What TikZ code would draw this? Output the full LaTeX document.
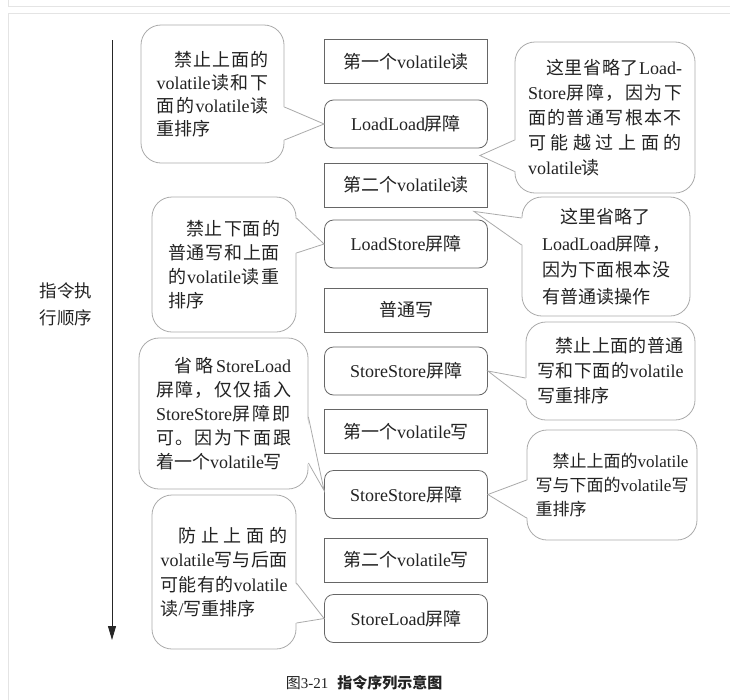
\documentclass[tikz,border=0pt]{standalone}
\usepackage{fontspec}
\setmainfont{Liberation Serif}
\newfontfamily\cjk{Noto Sans CJK SC}
\usetikzlibrary{calc,arrows.meta}
% automatic switch to the CJK font
\XeTeXinterchartokenstate=1
\newXeTeXintercharclass\CJKcls
\newcount\cjkidx
\cjkidx="3000
\loop\ifnum\cjkidx<"3040 \XeTeXcharclass\cjkidx=\CJKcls \advance\cjkidx by 1 \repeat
\cjkidx="4E00
\loop\ifnum\cjkidx<"A000 \XeTeXcharclass\cjkidx=\CJKcls \advance\cjkidx by 1 \repeat
\cjkidx="FF00
\loop\ifnum\cjkidx<"FFF0 \XeTeXcharclass\cjkidx=\CJKcls \advance\cjkidx by 1 \repeat
\XeTeXinterchartoks 0 \CJKcls = {\hskip0pt plus 3pt\cjk}
\XeTeXinterchartoks 4095 \CJKcls = {\cjk}
\XeTeXinterchartoks \CJKcls 0 = {\rmfamily\hskip0pt plus 3pt}
\XeTeXinterchartoks \CJKcls 4095 = {\rmfamily}
\XeTeXinterchartoks \CJKcls \CJKcls = {\hskip0pt plus 6pt}
\tolerance=10000
\hbadness=10000
\definecolor{boxline}{HTML}{666666}
\definecolor{calline}{HTML}{ABABAB}
\definecolor{txt}{HTML}{222222}
\definecolor{framec}{HTML}{E4E4E4}
\newcommand\mkpointer[4]{%
  \fill[white] ($(#1)+(#4,0)$) -- (#3) -- ($(#2)+(#4,0)$) -- cycle;
  \draw[ptr] (#1) -- (#3) -- (#2);}
\begin{document}
\begin{tikzpicture}[x=1pt,y=-1pt,
  every node/.style={text=txt},
  rectbox/.style={draw=boxline,line width=0.8pt,minimum width=163pt,minimum height=44pt,inner sep=0pt,font=\fontsize{18}{22}\selectfont},
  roundbox/.style={rectbox,rounded corners=9pt,minimum height=48pt},
  callout/.style={draw=calline,line width=0.8pt,rounded corners=20pt,inner sep=0pt,align=justify},
  ptr/.style={draw=calline,line width=0.8pt,line join=miter}
]
\useasboundingbox (0,0) rectangle (730,699);
\fill[white] (0,0) rectangle (730,699);
% page frame
\draw[framec,line width=1pt] (8,-5) -- (8,6) -- (735,6);
\draw[framec,line width=1pt] (8,705) -- (8,13) -- (735,13);

% time arrow
\coordinate (atop) at (112,40);
\coordinate (abot) at (112,640);
\draw[line width=0.9pt,draw=black!85,-{Triangle[length=14pt,width=8pt]}] (atop) -- (abot);
\node[font=\fontsize{17.5}{27}\selectfont,align=center] (order) at (66,304) {指令执\\行顺序};

% instruction column
\node[rectbox]  (b1)  at (406,61.5)  {第一个volatile读};
\node[roundbox] (LL)  at (406,124)   {LoadLoad屏障};
\node[rectbox]  (b3)  at (406,185)   {第二个volatile读};
\node[roundbox] (LS)  at (406,244)   {LoadStore屏障};
\node[rectbox]  (b5)  at (406,310)   {普通写};
\node[roundbox] (SS1) at (406,371)   {StoreStore屏障};
\node[rectbox]  (b7)  at (406,431.5) {第一个volatile写};
\node[roundbox] (SS2) at (406,494.5) {StoreStore屏障};
\node[rectbox]  (b9)  at (406,560)   {第二个volatile写};
\node[roundbox] (SL)  at (406,618.5) {StoreLoad屏障};

% callouts
\node[callout,minimum width=143pt,minimum height=138pt,text width=112pt,font=\fontsize{18}{23}\selectfont] (L1) at (212.5,94)
  {\hspace*{1em}禁止上面的\linebreak volatile读和下\linebreak 面的volatile读\linebreak 重排序};
\node[callout,minimum width=180pt,minimum height=151pt,text width=154pt,font=\fontsize{18}{25}\selectfont] (R1) at (605,117.5)
  {\hspace*{1em}这里省略了Load-\linebreak Store屏障，因为下\linebreak 面的普通写根本不\linebreak 可能越过上面的\linebreak volatile读};
\node[callout,minimum width=144pt,minimum height=135pt,text width=112pt,font=\fontsize{18}{24}\selectfont] (L2) at (224,264.5)
  {\hspace*{1em}禁止下面的\linebreak 普通写和上面\linebreak 的volatile读重\linebreak 排序};
\node[callout,minimum width=168pt,minimum height=119pt,text width=128pt,font=\fontsize{18}{26.5}\selectfont] (R2) at (606,256.5)
  {\hspace*{1em}这里省略了\newline LoadLoad屏障，\linebreak 因为下面根本没\linebreak 有普通读操作};
\node[callout,minimum width=169pt,minimum height=98pt,text width=146pt,font=\fontsize{18}{25}\selectfont] (R3) at (610.5,371)
  {\hspace*{1em}禁止上面的普通\linebreak 写和下面的volatile\linebreak 写重排序};
\node[callout,minimum width=169pt,minimum height=151pt,text width=135pt,font=\fontsize{18}{24}\selectfont] (L3) at (223.5,413.5)
  {\hspace*{1em}省略StoreLoad\linebreak 屏障，仅仅插入\linebreak StoreStore屏障即\linebreak 可。因为下面跟\linebreak 着一个volatile写};
\node[callout,minimum width=170pt,minimum height=110pt,text width=153pt,font=\fontsize{17}{24}\selectfont] (R4) at (612,485)
  {\hspace*{1em}禁止上面的volatile\linebreak 写与下面的volatile写\linebreak 重排序};
\node[callout,minimum width=144pt,minimum height=154pt,text width=127pt,font=\fontsize{18}{24.5}\selectfont] (L4) at (224,572)
  {\hspace*{1em}防止上面的\linebreak volatile写与后面\linebreak 可能有的volatile\linebreak 读/写重排序};

% pointer anchors
\coordinate (L1a) at ($(L1.east)+(0,13)$);   \coordinate (L1b) at ($(L1.east)+(0,46)$);
\coordinate (R1a) at ($(R1.west)+(0,22.5)$); \coordinate (R1b) at ($(R1.west)+(0,54)$);
\coordinate (R1t) at ($(LL.south east)!0.5!(b3.north east)+(-8,0)$);
\coordinate (L2a) at ($(L2.east)+(0,-46.5)$); \coordinate (L2b) at ($(L2.east)+(0,-11.5)$);
\coordinate (R2a) at ($(R2.west)+(0,-38.5)$); \coordinate (R2b) at ($(R2.west)+(0,-11.5)$);
\coordinate (R2t) at ($(b3.south east)+(-14,4)$);
\coordinate (R3a) at ($(R3.west)+(0,7)$);    \coordinate (R3b) at ($(R3.west)+(0,29)$);
\coordinate (L3a) at ($(L3.east)+(0,3.5)$);  \coordinate (L3b) at ($(L3.east)+(0,49.5)$);
\coordinate (L3t) at ($(SS2.west)+(0,-4)$);
\coordinate (R4a) at ($(R4.west)+(0,-5)$);   \coordinate (R4b) at ($(R4.west)+(0,33)$);
\coordinate (L4a) at ($(L4.east)+(0,11)$);   \coordinate (L4b) at ($(L4.east)+(0,51)$);

\mkpointer{L1a}{L1b}{LL.west}{-1.5}
\mkpointer{R1a}{R1b}{R1t}{1.5}
\mkpointer{L2a}{L2b}{LS.west}{-1.5}
\mkpointer{R2a}{R2b}{R2t}{1.5}
\mkpointer{R3a}{R3b}{SS1.east}{1.5}
\mkpointer{L3a}{L3b}{L3t}{-1.5}
\mkpointer{R4a}{R4b}{SS2.east}{1.5}
\mkpointer{L4a}{L4b}{SL.west}{-1.5}

% caption
\node[font=\fontsize{15}{18}\selectfont] (cap) at (364,683) {图3-21\hspace{0.6em}{\bfseries 指令序列示意图}};
\end{tikzpicture}
\end{document}
